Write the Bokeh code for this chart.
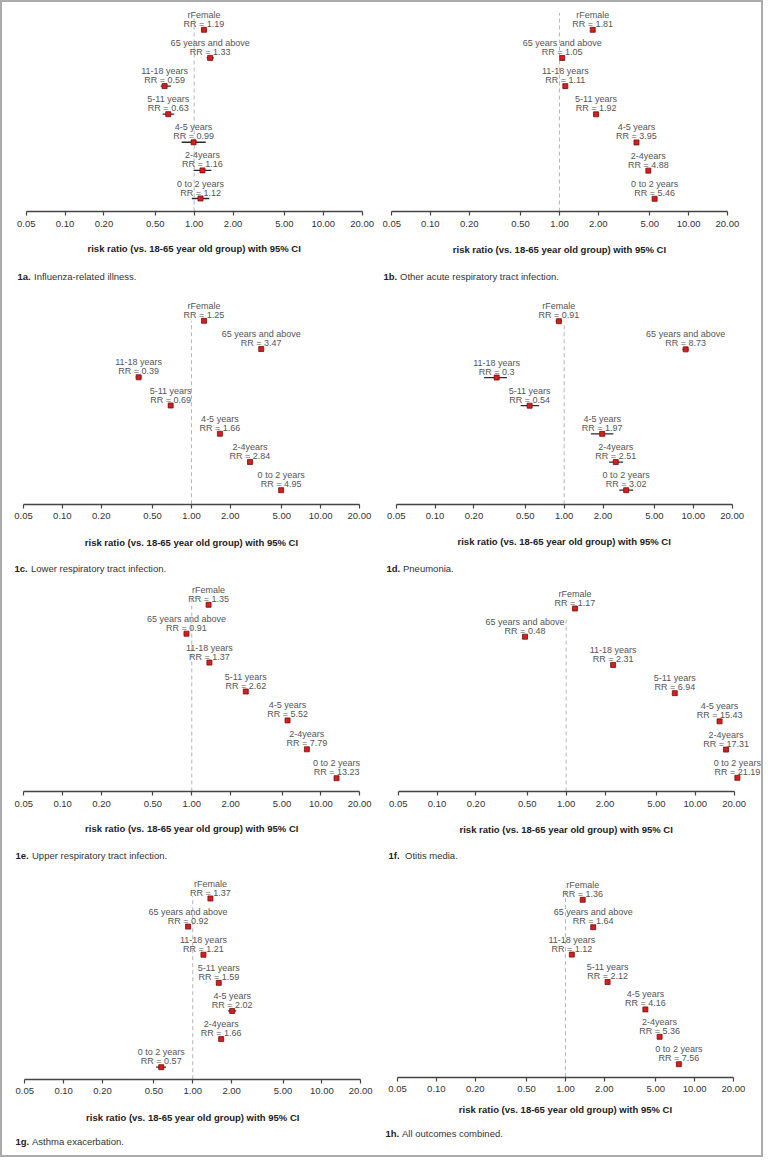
import math
from bokeh.plotting import figure
from bokeh.layouts import column, row
from bokeh.models import Range1d, FixedTicker, PrintfTickFormatter, Label, ColumnDataSource
from bokeh.core.properties import value
from bokeh.embed import file_html
from bokeh.resources import INLINE

# ---------------- data ----------------
groups = ["rFemale", "65 years and above", "11-18 years", "5-11 years",
          "4-5 years", "2-4years", "0 to 2 years"]
ticks = [0.05, 0.10, 0.20, 0.50, 1.00, 2.00, 5.00, 10.00, 20.00]
axis_title = "risk ratio (vs. 18-65 year old group) with 95% CI"

rr_1a = [1.19, 1.33, 0.59, 0.63, 0.99, 1.16, 1.12]
lo_1a = [1.13, 1.25, 0.55, 0.57, 0.80, 0.99, 0.96]
hi_1a = [1.25, 1.42, 0.66, 0.70, 1.23, 1.36, 1.31]

rr_1b = [1.81, 1.05, 1.11, 1.92, 3.95, 4.88, 5.46]
lo_1b = [1.76, 1.02, 1.07, 1.86, 3.82, 4.71, 5.27]
hi_1b = [1.86, 1.08, 1.15, 1.98, 4.08, 5.05, 5.65]

rr_1c = [1.25, 3.47, 0.39, 0.69, 1.66, 2.84, 4.95]
lo_1c = [1.21, 3.37, 0.37, 0.66, 1.61, 2.75, 4.78]
hi_1c = [1.29, 3.57, 0.41, 0.72, 1.71, 2.93, 5.12]

rr_1d = [0.91, 8.73, 0.30, 0.54, 1.97, 2.51, 3.02]
lo_1d = [0.86, 8.25, 0.24, 0.46, 1.61, 2.23, 2.67]
hi_1d = [0.96, 9.24, 0.36, 0.64, 2.41, 2.86, 3.42]

rr_1e = [1.35, 0.91, 1.37, 2.62, 5.52, 7.79, 13.23]
lo_1e = [1.32, 0.88, 1.33, 2.54, 5.35, 7.55, 12.80]
hi_1e = [1.38, 0.94, 1.41, 2.70, 5.70, 8.04, 13.70]

rr_1f = [1.17, 0.48, 2.31, 6.94, 15.43, 17.31, 21.19]
lo_1f = [1.13, 0.46, 2.24, 6.72, 14.90, 16.70, 20.40]
hi_1f = [1.21, 0.50, 2.38, 7.17, 15.98, 17.94, 22.00]

rr_1g = [1.37, 0.92, 1.21, 1.59, 2.02, 1.66, 0.57]
lo_1g = [1.32, 0.88, 1.16, 1.53, 1.88, 1.59, 0.52]
hi_1g = [1.42, 0.96, 1.26, 1.65, 2.17, 1.73, 0.62]

rr_1h = [1.36, 1.64, 1.12, 2.12, 4.16, 5.36, 7.56]
lo_1h = [1.33, 1.60, 1.09, 2.07, 4.04, 5.20, 7.33]
hi_1h = [1.39, 1.68, 1.15, 2.17, 4.28, 5.52, 7.79]

cap_ids = ["1a.", "1b.", "1c.", "1d.", "1e.", "1f.", "1g.", "1h."]
cap_texts = ["Influenza-related illness.", "Other acute respiratory tract infection.",
             "Lower respiratory tract infection.", "Pneumonia.",
             "Upper respiratory tract infection.", "Otitis media.",
             "Asthma exacerbation.", "All outcomes combined."]

# ---------------- layout geometry (pixels, reference coordinates) ----------------
FONT = "Liberation Sans"
PPD = 129.1  # pixels per decade on the log axis
col_left = [2, 390]
col_w = [380, 379]
row_top = [2, 292, 585, 877]
row_h = [286, 289, 288, 290]
CAP_GAP = 16.5

geom = [
    dict(x0=25.7, top=29.3, bot=198.0, axis=211.0, cx=17, cy=276.0, ty=248.0, dtop=7.5),
    dict(x0=399.0, top=29.3, bot=198.3, axis=211.0, cx=391, cy=276.0, ty=249.0, dtop=7.6),
    dict(x0=23.0, top=324.3, bot=493.7, axis=507.7, cx=14, cy=572.3, ty=545.7, dtop=7.0),
    dict(x0=403.7, top=324.7, bot=493.7, axis=507.7, cx=394, cy=572.3, ty=545.0, dtop=7.0),
    dict(x0=23.3, top=612.3, bot=785.7, axis=799.0, cx=15, cy=863.3, ty=836.0, dtop=7.3),
    dict(x0=405.7, top=616.0, bot=785.3, axis=799.0, cx=396, cy=863.3, ty=836.7, dtop=6.7),
    dict(x0=24.3, top=910.0, bot=1078.7, axis=1090.7, cx=15, cy=1153.0, ty=1129.0, dtop=7.1),
    dict(x0=405.0, top=911.3, bot=1075.7, axis=1088.7, cx=393, cy=1145.0, ty=1121.0, dtop=7.45),
]

series = [(rr_1a, lo_1a, hi_1a), (rr_1b, lo_1b, hi_1b), (rr_1c, lo_1c, hi_1c),
          (rr_1d, lo_1d, hi_1d), (rr_1e, lo_1e, hi_1e), (rr_1f, lo_1f, hi_1f),
          (rr_1g, lo_1g, hi_1g), (rr_1h, lo_1h, hi_1h)]


def make_panel(i):
    rr, lo, hi = series[i]
    g = geom[i]
    r, c = divmod(i, 2)
    W, H, rt, cl = col_w[c], row_h[r], row_top[r], col_left[c]
    x0 = g["x0"] - cl
    xs = 0.05 * 10 ** (-x0 / PPD)
    xe = 0.05 * 10 ** ((W - x0) / PPD)
    sp = (g["bot"] - g["top"]) / 6.0
    t = g["top"] - rt
    ye = 7 + t / sp
    ys = 7 - (H - t) / sp
    ya = 7 - (g["axis"] - g["top"]) / sp

    p = figure(width=W, height=H, x_axis_type="log",
               x_range=Range1d(xs, xe), y_range=Range1d(ys, ye),
               output_backend="svg", toolbar_location=None,
               y_axis_location=None, min_border=0,
               min_border_left=0, min_border_right=0,
               min_border_top=0, min_border_bottom=0,
               outline_line_color=None, background_fill_color="white",
               border_fill_color="white")
    p.xgrid.visible = False
    p.ygrid.visible = False

    ypos = list(range(len(groups), 0, -1))
    src = ColumnDataSource(dict(rr=rr, lo=lo, hi=hi, y=ypos, name=groups,
                                lab=["RR = %g" % v for v in rr]))

    # reference line at RR = 1
    p.segment(x0=[1.0], y0=[ya], x1=[1.0], y1=[g["dtop"]],
              line_color="#b5b5b5", line_width=1, line_dash="4 3")
    # CI lines
    p.segment(x0="lo", y0="y", x1="hi", y1="y", source=src,
              line_color="#2a2a2a", line_width=1.3)
    # point estimates
    p.scatter(x="rr", y="y", source=src, marker="square", size=5,
              fill_color="#d02020", line_color="#7a0c0c", line_width=0.8)
    # labels
    p.text(x="rr", y="y", text="name", source=src, y_offset=-15,
           text_align="center", text_baseline="middle",
           text_font=value(FONT), text_font_size="9px", text_color="#555555")
    p.text(x="rr", y="y", text="lab", source=src, y_offset=-6,
           text_align="center", text_baseline="middle",
           text_font=value(FONT), text_font_size="9px", text_color="#555555")

    ax = p.xaxis[0]
    ax.fixed_location = ya
    ax.ticker = FixedTicker(ticks=ticks, minor_ticks=[])
    ax.formatter = PrintfTickFormatter(format="%.2f")
    ax.bounds = (ticks[0], ticks[-1])
    ax.axis_line_color = "#444444"
    ax.axis_line_width = 1.6
    ax.major_tick_line_color = "#444444"
    ax.major_tick_line_width = 1.2
    ax.major_tick_out = 4
    ax.major_tick_in = 0
    ax.minor_tick_line_color = None
    ax.major_label_standoff = 5
    ax.major_label_text_font = FONT
    ax.major_label_text_font_size = "9.5px"
    ax.major_label_text_color = "#333333"

    p.add_layout(Label(x=1.0, x_units="data", y=H - (g["ty"] - rt), y_units="screen",
                       text=axis_title, text_align="center", text_baseline="middle",
                       text_font=FONT, text_font_size="9.5px", text_font_style="bold",
                       text_color="#222222"))
    p.add_layout(Label(x=g["cx"] - cl, x_units="screen", y=H - (g["cy"] - rt),
                       y_units="screen", text=cap_ids[i], text_align="left",
                       text_baseline="middle", text_font=FONT, text_font_size="9.5px",
                       text_font_style="bold", text_color="#222222"))
    p.add_layout(Label(x=g["cx"] + CAP_GAP - cl, x_units="screen", y=H - (g["cy"] - rt),
                       y_units="screen", text=cap_texts[i], text_align="left",
                       text_baseline="middle", text_font=FONT, text_font_size="9.5px",
                       text_color="#333333"))
    return p


panels = [make_panel(i) for i in range(8)]
layout = column(*[row(panels[2 * k], panels[2 * k + 1]) for k in range(4)],
                styles={"border": "2px solid #ababab"})

open("out.html", "w").write(file_html(layout, INLINE))
